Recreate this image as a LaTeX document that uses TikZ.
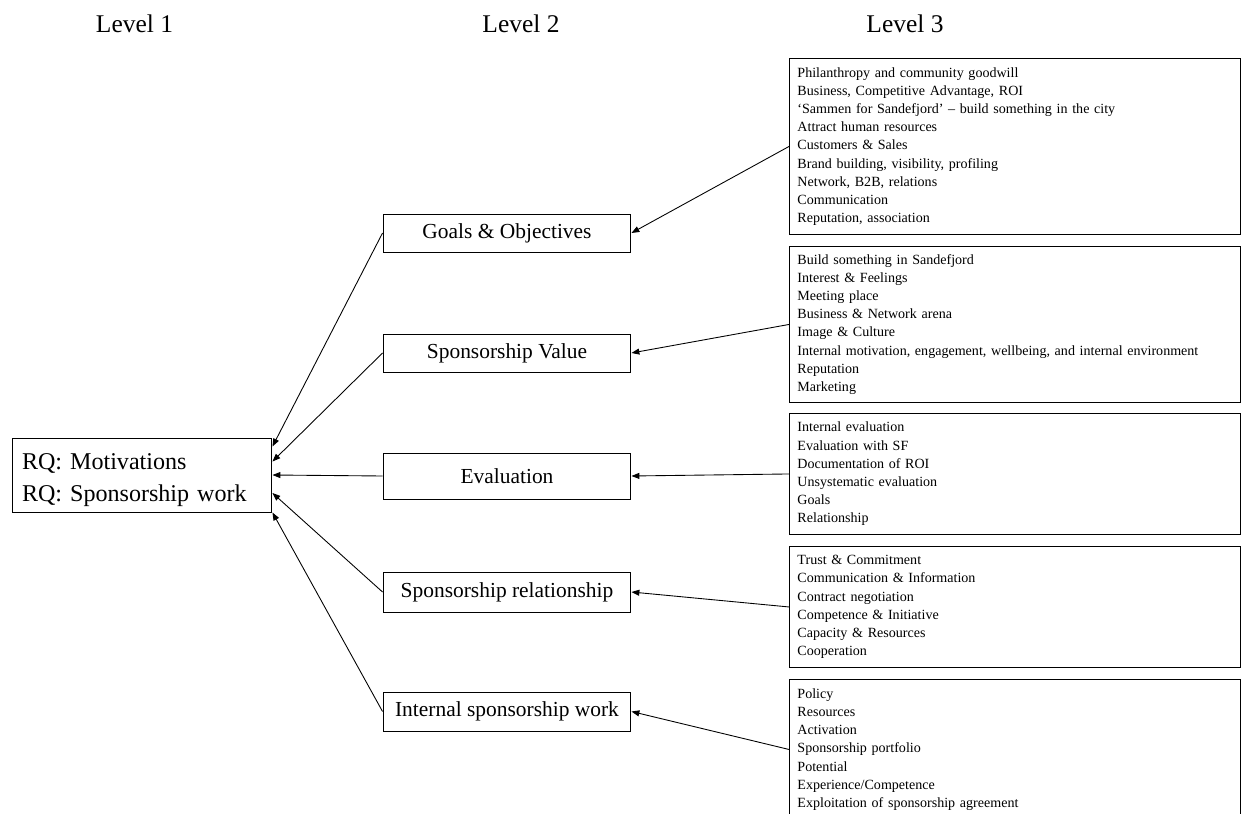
\documentclass[tikz,border=0pt]{standalone}
\usepackage{fontspec}
\setmainfont{Liberation Serif}
\usetikzlibrary{arrows.meta,calc}

\begin{document}
\begin{tikzpicture}[x=0.02cm, y=-0.02cm,
    lvl/.style={anchor=base, font=\fontsize{14.5}{17}\selectfont},
    topic/.style={draw, line width=0.55pt, minimum width=4.96cm, inner sep=0pt, font=\fontsize{12.2}{14}\selectfont},
    items/.style={draw, line width=0.55pt, anchor=north west, text width=8.7cm, inner xsep=0.16cm, inner ysep=0pt, align=left, font=\fontsize{8}{10.36}\selectfont},
    arr/.style={-{Triangle[length=4.5pt,width=3.4pt]}, line width=0.5pt}]
  \useasboundingbox (0,0) rectangle (1245,814); % page size

  % Column headings
  \node[lvl] (lvlone) at (134.5,33) {Level 1};
  \node[lvl] (lvltwo) at (521,33) {Level 2};
  \node[lvl] (lvlthree) at (905,33) {Level 3};

  % Level 1
  \node[draw, line width=0.55pt, minimum width=5.2cm, minimum height=1.48cm, text width=4.8cm,
        inner xsep=0.2cm, inner ysep=0pt, align=left, font=\fontsize{13.7}{18.2}\selectfont]
        (rq) at (142,475) {\rule{0pt}{15pt}RQ: Motivations\\RQ: Sponsorship work};

  % Level 2 themes
  \node[topic, minimum height=0.76cm] (goals) at (507,233) {Goals \& Objectives};
  \node[topic, minimum height=0.76cm] (value) at (507,353) {Sponsorship Value};
  \node[topic, minimum height=0.92cm] (eval) at (507,476) {Evaluation};
  \node[topic, minimum height=0.80cm] (rel) at (507,592) {Sponsorship relationship};
  \node[topic, minimum height=0.78cm] (internal) at (507,711.5) {Internal sponsorship work};

  % Level 3 codes
  \node[items, minimum height=3.52cm] (goalsitems) at (789,58) {Philanthropy and community goodwill\\
    Business, Competitive Advantage, ROI\\
    ‘Sammen for Sandefjord’ – build something in the city\\
    Attract human resources\\
    Customers \& Sales\\
    Brand building, visibility, profiling\\
    Network, B2B, relations\\
    Communication\\
    Reputation, association};
  \node[items, minimum height=3.12cm] (valueitems) at (789,246) {Build something in Sandefjord\\
    Interest \& Feelings\\
    Meeting place\\
    Business \& Network arena\\
    Image \& Culture\\
    Internal motivation, engagement, wellbeing, and internal environment\\
    Reputation\\
    Marketing};
  \node[items, minimum height=2.42cm] (evalitems) at (789,413) {Internal evaluation\\
    Evaluation with SF\\
    Documentation of ROI\\
    Unsystematic evaluation\\
    Goals\\
    Relationship};
  \node[items, minimum height=2.42cm] (relitems) at (789,546) {Trust \& Commitment\\
    Communication \& Information\\
    Contract negotiation\\
    Competence \& Initiative\\
    Capacity \& Resources\\
    Cooperation};
  \node[items, minimum height=2.8cm] (internalitems) at (789,679) {Policy\\
    Resources\\
    Activation\\
    Sponsorship portfolio\\
    Potential\\
    Experience/Competence\\
    Exploitation of sponsorship agreement}; % runs off the page

  % Level 3 -> Level 2
  \draw[arr] (goalsitems.west) -- (goals.east);
  \draw[arr] (valueitems.west) -- (value.east);
  \draw[arr] (evalitems.west) -- (eval.east);
  \draw[arr] (relitems.west) -- (rel.east);
  \draw[arr] (internalitems.west) -- (internal.east);

  % Level 2 -> Level 1
  \draw[arr] (goals.west) -- ($(rq.north east)!0.12!(rq.south east)$);
  \draw[arr] (value.west) -- ($(rq.north east)!0.32!(rq.south east)$);
  \draw[arr] (eval.west) -- ($(rq.north east)!0.5!(rq.south east)$);
  \draw[arr] (rel.west) -- ($(rq.north east)!0.74!(rq.south east)$);
  \draw[arr] (internal.west) -- (rq.south east);
\end{tikzpicture}
\end{document}
